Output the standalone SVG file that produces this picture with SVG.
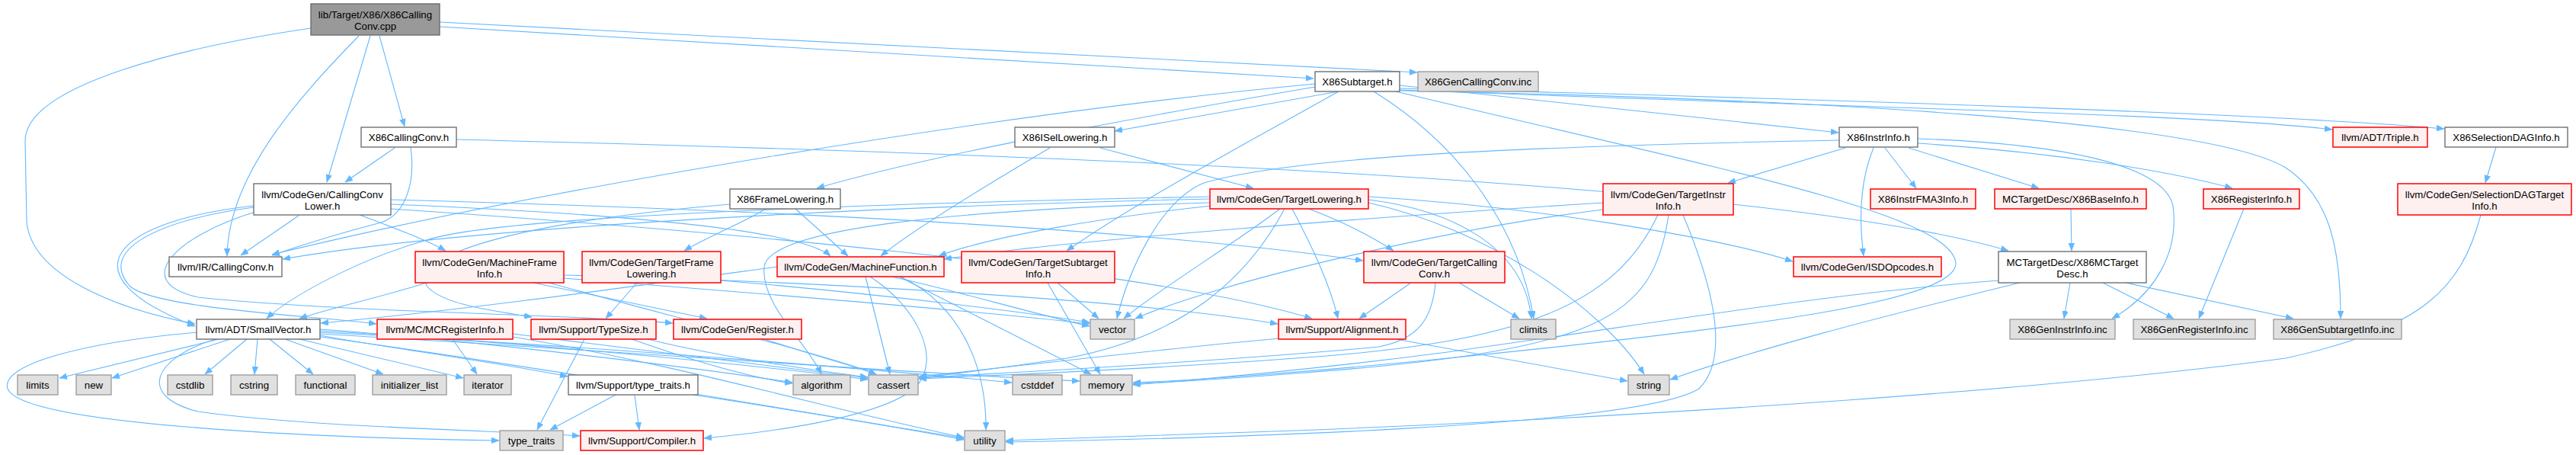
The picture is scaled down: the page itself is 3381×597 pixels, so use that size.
<svg xmlns="http://www.w3.org/2000/svg" width="3381" height="597" viewBox="0 0 3381 597">
<defs>
<marker id="arr" markerUnits="userSpaceOnUse" markerWidth="11" markerHeight="8" refX="10" refY="4" orient="auto">
<path d="M0,0 L10,4 L0,8 z" fill="#63B8FF" stroke="#63B8FF" stroke-width="0.5"/>
</marker>
<style>
.node rect{stroke-width:1.3}
.root rect{fill:#999999;stroke:#666666}
.white rect{fill:#ffffff;stroke:#666666}
.red rect{fill:#FFF0F0;stroke:#FF0000;stroke-width:1.5}
.gray rect{fill:#E0E0E0;stroke:#999999}
text{font-family:"Liberation Sans",Arial,sans-serif;font-size:13.3px;fill:#000000;text-anchor:middle}
.edges path{fill:none;stroke:#63B8FF;stroke-width:1.1;marker-end:url(#arr)}
</style>
</defs>
<rect x="0" y="0" width="3381" height="597" fill="#ffffff"/>
<g class="edges">
<path d="M408,37 C250,60 33,110 33,185 L35,290 C40,360 150,405 256,425"/>
<path d="M471,47 C390,130 300,230 298,336"/>
<path d="M486,47 L429,239"/>
<path d="M498,47 L531,166"/>
<path d="M577,35 L1724,103"/>
<path d="M577,29 L1860,95"/>
<path d="M518,194 L453,239"/>
<path d="M539,193 C545,235 535,280 500,292 C450,305 400,320 357,335"/>
<path d="M599,183 C1200,198 2300,230 2636,329"/>
<path d="M333,270 C150,290 80,360 256,428"/>
<path d="M392,283 L316,335"/>
<path d="M472,282 C520,300 560,315 585,329"/>
<path d="M333,272 C200,290 130,330 170,375 C200,405 420,415 494,425"/>
<path d="M335,278 C230,310 170,370 260,390 C450,410 750,412 883,424"/>
<path d="M513,268 C800,280 1050,300 1090,336"/>
<path d="M513,262 C1000,275 1500,300 1789,342"/>
<path d="M513,274 C900,300 1500,350 1722,418"/>
<path d="M1726,114 C1400,170 1200,210 1072,247"/>
<path d="M1726,110 C1300,150 700,250 357,334"/>
<path d="M1757,120 L1463,172"/>
<path d="M1757,120 C1650,180 1500,260 1400,329"/>
<path d="M1803,120 C1900,180 1990,280 2013,418"/>
<path d="M1837,112 L2413,174"/>
<path d="M1837,118 C2400,140 2900,150 3061,170"/>
<path d="M1837,116 C2400,130 3000,150 3208,169"/>
<path d="M1837,119 C2400,130 2900,160 3000,220 C3060,260 3072,330 3072,418"/>
<path d="M1832,120 C2250,220 2560,280 2567,345 C2570,395 2300,430 1900,470 C1700,490 1550,500 1487,502"/>
<path d="M1444,194 L1645,247"/>
<path d="M1378,194 C1300,240 1200,300 1156,336"/>
<path d="M1005,274 C980,290 930,310 898,329"/>
<path d="M1044,274 C1070,297 1090,315 1113,336"/>
<path d="M958,268 C700,290 540,330 560,375 C580,400 650,408 698,416"/>
<path d="M1588,258 C1100,268 650,285 560,315 C470,340 380,390 350,418"/>
<path d="M1588,261 C1100,272 600,300 371,340"/>
<path d="M1590,270 C1450,285 1300,310 1232,336"/>
<path d="M1718,274 C1760,290 1800,310 1829,329"/>
<path d="M1696,274 C1720,320 1745,370 1756,418"/>
<path d="M1680,274 C1620,320 1520,380 1475,418"/>
<path d="M1686,274 C1640,360 1560,440 1400,470 C1300,485 1240,492 1206,496"/>
<path d="M1588,266 C1250,275 1010,300 1003,350 C998,400 1060,450 1078,491"/>
<path d="M1796,262 C1900,275 2000,320 2010,418"/>
<path d="M1796,266 C1950,300 2100,400 2158,491"/>
<path d="M1796,258 C2000,270 2250,310 2353,343"/>
<path d="M2104,266 C1800,285 1400,315 1239,340"/>
<path d="M2104,275 C1900,300 1600,370 1490,418"/>
<path d="M2176,282 C2120,400 2000,450 1700,470 C1500,485 1300,493 1206,497"/>
<path d="M2190,282 C2170,420 2100,460 1700,490 C1600,498 1520,502 1487,504"/>
<path d="M2209,282 C2250,380 2270,470 2230,510 C2150,560 1600,575 1320,580"/>
<path d="M2422,194 L2268,240"/>
<path d="M2474,194 L2515,247"/>
<path d="M2505,194 L2676,247"/>
<path d="M2459,194 C2440,240 2440,290 2446,336"/>
<path d="M2414,184 C2000,192 1700,205 1580,240 C1520,265 1480,360 1466,418"/>
<path d="M2517,188 C2700,200 2850,225 2930,247"/>
<path d="M2517,182 C2700,188 2840,215 2852,270 C2860,330 2830,385 2772,418"/>
<path d="M2945,274 L2886,418"/>
<path d="M2718,274 L2719,329"/>
<path d="M2717,371 L2709,418"/>
<path d="M2760,371 L2853,418"/>
<path d="M2790,371 L3010,418"/>
<path d="M2623,368 C2400,385 2200,420 1900,462 C1700,488 1550,500 1487,505"/>
<path d="M2651,371 C2450,420 2300,460 2192,498"/>
<path d="M3276,193 L3262,240"/>
<path d="M3256,282 C3230,380 3180,430 3000,470 C2700,510 2200,545 1700,565 C1500,572 1380,577 1320,578"/>
<path d="M287,445 L78,496"/>
<path d="M302,445 L147,496"/>
<path d="M324,445 L269,491"/>
<path d="M338,445 L334,491"/>
<path d="M354,445 L411,491"/>
<path d="M374,445 L503,491"/>
<path d="M393,445 L608,496"/>
<path d="M420,440 C500,455 650,475 745,494"/>
<path d="M283,445 C200,470 180,520 260,540 C400,560 650,565 761,572"/>
<path d="M258,436 C100,450 0,480 10,510 C30,560 450,575 655,578"/>
<path d="M420,432 C600,445 900,480 1040,502"/>
<path d="M420,434 C700,450 1000,480 1139,498"/>
<path d="M420,436 C800,455 1150,485 1328,502"/>
<path d="M420,438 C800,460 1200,490 1417,500"/>
<path d="M420,442 C700,480 1050,540 1265,575"/>
<path d="M673,438 C850,460 1050,485 1139,496"/>
<path d="M673,442 C900,480 1100,540 1265,574"/>
<path d="M594,445 L626,491"/>
<path d="M767,445 L705,564"/>
<path d="M829,445 C900,470 980,495 1040,503"/>
<path d="M850,445 C950,470 1100,490 1139,495"/>
<path d="M1003,445 C1080,470 1120,480 1150,491"/>
<path d="M808,518 L722,564"/>
<path d="M833,518 L839,564"/>
<path d="M910,518 C1050,540 1180,560 1265,577"/>
<path d="M1136,363 L1168,491"/>
<path d="M1180,363 L1432,491"/>
<path d="M1170,363 C1250,380 1350,410 1430,428"/>
<path d="M1182,363 C1260,400 1295,480 1294,564"/>
<path d="M1142,363 C1200,400 1240,470 1200,510 C1150,550 1000,568 924,575"/>
<path d="M1020,350 C800,380 600,408 421,424"/>
<path d="M560,371 C500,390 430,405 393,418"/>
<path d="M700,371 L928,418"/>
<path d="M740,365 C1000,385 1300,410 1430,425"/>
<path d="M740,361 C1100,370 1500,395 1677,425"/>
<path d="M720,371 C900,420 1100,470 1150,491"/>
<path d="M836,371 L795,418"/>
<path d="M946,368 C1150,385 1350,410 1430,423"/>
<path d="M1388,371 L1442,418"/>
<path d="M1375,371 L1444,491"/>
<path d="M1852,371 L1784,418"/>
<path d="M1915,371 L1994,418"/>
<path d="M1884,371 C1880,420 1860,445 1810,455 C1600,475 1300,490 1206,496"/>
<path d="M1680,444 C1500,460 1300,485 1206,494"/>
<path d="M1832,445 L2136,500"/>
</g>
<g id="n_root" class="node root"><rect x="408" y="5" width="169" height="41"/><text x="492.5" y="23.5">lib/Target/X86/X86Calling</text><text x="492.5" y="38.5">Conv.cpp</text></g>
<g id="n_xcc" class="node white"><rect x="474" y="167" width="125" height="26"/><text x="536.5" y="184.5">X86CallingConv.h</text></g>
<g id="n_ccl" class="node white"><rect x="333" y="241" width="180" height="41"/><text x="423" y="259.5">llvm/CodeGen/CallingConv</text><text x="423" y="274.5">Lower.h</text></g>
<g id="n_xfl" class="node white"><rect x="958" y="248" width="145" height="26"/><text x="1030.5" y="265.5">X86FrameLowering.h</text></g>
<g id="n_xisl" class="node white"><rect x="1332" y="167" width="131" height="26"/><text x="1397.5" y="184.5">X86ISelLowering.h</text></g>
<g id="n_tl" class="node red"><rect x="1588" y="248" width="208" height="26"/><text x="1692" y="265.5">llvm/CodeGen/TargetLowering.h</text></g>
<g id="n_xst" class="node white"><rect x="1726" y="94" width="111" height="26"/><text x="1781.5" y="111.5">X86Subtarget.h</text></g>
<g id="n_gcc" class="node gray"><rect x="1861" y="94" width="158" height="26"/><text x="1940" y="111.5">X86GenCallingConv.inc</text></g>
<g id="n_tii" class="node red"><rect x="2104" y="241" width="171" height="41"/><text x="2189.5" y="259.5">llvm/CodeGen/TargetInstr</text><text x="2189.5" y="274.5">Info.h</text></g>
<g id="n_xii" class="node white"><rect x="2414" y="167" width="103" height="26"/><text x="2465.5" y="184.5">X86InstrInfo.h</text></g>
<g id="n_fma" class="node red"><rect x="2455" y="248" width="138" height="26"/><text x="2524" y="265.5">X86InstrFMA3Info.h</text></g>
<g id="n_base" class="node red"><rect x="2618" y="248" width="199" height="26"/><text x="2717.5" y="265.5">MCTargetDesc/X86BaseInfo.h</text></g>
<g id="n_xri" class="node red"><rect x="2892" y="248" width="126" height="26"/><text x="2955" y="265.5">X86RegisterInfo.h</text></g>
<g id="n_triple" class="node red"><rect x="3062" y="167" width="124" height="26"/><text x="3124" y="184.5">llvm/ADT/Triple.h</text></g>
<g id="n_sdag" class="node white"><rect x="3209" y="167" width="161" height="26"/><text x="3289.5" y="184.5">X86SelectionDAGInfo.h</text></g>
<g id="n_sdagt" class="node red"><rect x="3147" y="241" width="228" height="41"/><text x="3261" y="259.5">llvm/CodeGen/SelectionDAGTarget</text><text x="3261" y="274.5">Info.h</text></g>
<g id="n_ircc" class="node white"><rect x="222" y="337" width="148" height="26"/><text x="296" y="354.5">llvm/IR/CallingConv.h</text></g>
<g id="n_mfi" class="node red"><rect x="545" y="330" width="195" height="41"/><text x="642.5" y="348.5">llvm/CodeGen/MachineFrame</text><text x="642.5" y="363.5">Info.h</text></g>
<g id="n_tfl" class="node red"><rect x="764" y="330" width="182" height="41"/><text x="855" y="348.5">llvm/CodeGen/TargetFrame</text><text x="855" y="363.5">Lowering.h</text></g>
<g id="n_mf" class="node red"><rect x="1020" y="337" width="219" height="26"/><text x="1129.5" y="354.5">llvm/CodeGen/MachineFunction.h</text></g>
<g id="n_tsi" class="node red"><rect x="1262" y="330" width="201" height="41"/><text x="1362.5" y="348.5">llvm/CodeGen/TargetSubtarget</text><text x="1362.5" y="363.5">Info.h</text></g>
<g id="n_tcc" class="node red"><rect x="1790" y="330" width="185" height="41"/><text x="1882.5" y="348.5">llvm/CodeGen/TargetCalling</text><text x="1882.5" y="363.5">Conv.h</text></g>
<g id="n_isd" class="node red"><rect x="2354" y="337" width="194" height="26"/><text x="2451" y="354.5">llvm/CodeGen/ISDOpcodes.h</text></g>
<g id="n_mctd" class="node white"><rect x="2623" y="330" width="194" height="41"/><text x="2720" y="348.5">MCTargetDesc/X86MCTarget</text><text x="2720" y="363.5">Desc.h</text></g>
<g id="n_sv" class="node white"><rect x="258" y="419" width="162" height="26"/><text x="339" y="436.5">llvm/ADT/SmallVector.h</text></g>
<g id="n_mcri" class="node red"><rect x="495" y="419" width="178" height="26"/><text x="584" y="436.5">llvm/MC/MCRegisterInfo.h</text></g>
<g id="n_ts" class="node red"><rect x="697" y="419" width="164" height="26"/><text x="779" y="436.5">llvm/Support/TypeSize.h</text></g>
<g id="n_reg" class="node red"><rect x="884" y="419" width="168" height="26"/><text x="968" y="436.5">llvm/CodeGen/Register.h</text></g>
<g id="n_vector" class="node gray"><rect x="1431" y="419" width="58" height="26"/><text x="1460" y="436.5">vector</text></g>
<g id="n_align" class="node red"><rect x="1678" y="419" width="167" height="26"/><text x="1761.5" y="436.5">llvm/Support/Alignment.h</text></g>
<g id="n_climits" class="node gray"><rect x="1983" y="419" width="59" height="26"/><text x="2012.5" y="436.5">climits</text></g>
<g id="n_ginstr" class="node gray"><rect x="2638" y="419" width="138" height="26"/><text x="2707" y="436.5">X86GenInstrInfo.inc</text></g>
<g id="n_greg" class="node gray"><rect x="2800" y="419" width="160" height="26"/><text x="2880" y="436.5">X86GenRegisterInfo.inc</text></g>
<g id="n_gsub" class="node gray"><rect x="2984" y="419" width="168" height="26"/><text x="3068" y="436.5">X86GenSubtargetInfo.inc</text></g>
<g id="n_limits" class="node gray"><rect x="23" y="492" width="53" height="26"/><text x="49.5" y="509.5">limits</text></g>
<g id="n_new" class="node gray"><rect x="100" y="492" width="46" height="26"/><text x="123" y="509.5">new</text></g>
<g id="n_cstdlib" class="node gray"><rect x="220" y="492" width="59" height="26"/><text x="249.5" y="509.5">cstdlib</text></g>
<g id="n_cstring" class="node gray"><rect x="303" y="492" width="61" height="26"/><text x="333.5" y="509.5">cstring</text></g>
<g id="n_functional" class="node gray"><rect x="388" y="492" width="78" height="26"/><text x="427" y="509.5">functional</text></g>
<g id="n_initlist" class="node gray"><rect x="489" y="492" width="97" height="26"/><text x="537.5" y="509.5">initializer_list</text></g>
<g id="n_iterator" class="node gray"><rect x="609" y="492" width="62" height="26"/><text x="640" y="509.5">iterator</text></g>
<g id="n_tt" class="node white"><rect x="746" y="492" width="170" height="26"/><text x="831" y="509.5">llvm/Support/type_traits.h</text></g>
<g id="n_algorithm" class="node gray"><rect x="1041" y="492" width="75" height="26"/><text x="1078.5" y="509.5">algorithm</text></g>
<g id="n_cassert" class="node gray"><rect x="1140" y="492" width="65" height="26"/><text x="1172.5" y="509.5">cassert</text></g>
<g id="n_cstddef" class="node gray"><rect x="1329" y="492" width="65" height="26"/><text x="1361.5" y="509.5">cstddef</text></g>
<g id="n_memory" class="node gray"><rect x="1418" y="492" width="68" height="26"/><text x="1452" y="509.5">memory</text></g>
<g id="n_string" class="node gray"><rect x="2137" y="492" width="54" height="26"/><text x="2164" y="509.5">string</text></g>
<g id="n_typetraits" class="node gray"><rect x="656" y="565" width="83" height="26"/><text x="697.5" y="582.5">type_traits</text></g>
<g id="n_compiler" class="node red"><rect x="762" y="565" width="161" height="26"/><text x="842.5" y="582.5">llvm/Support/Compiler.h</text></g>
<g id="n_utility" class="node gray"><rect x="1266" y="565" width="53" height="26"/><text x="1292.5" y="582.5">utility</text></g>
</svg>
